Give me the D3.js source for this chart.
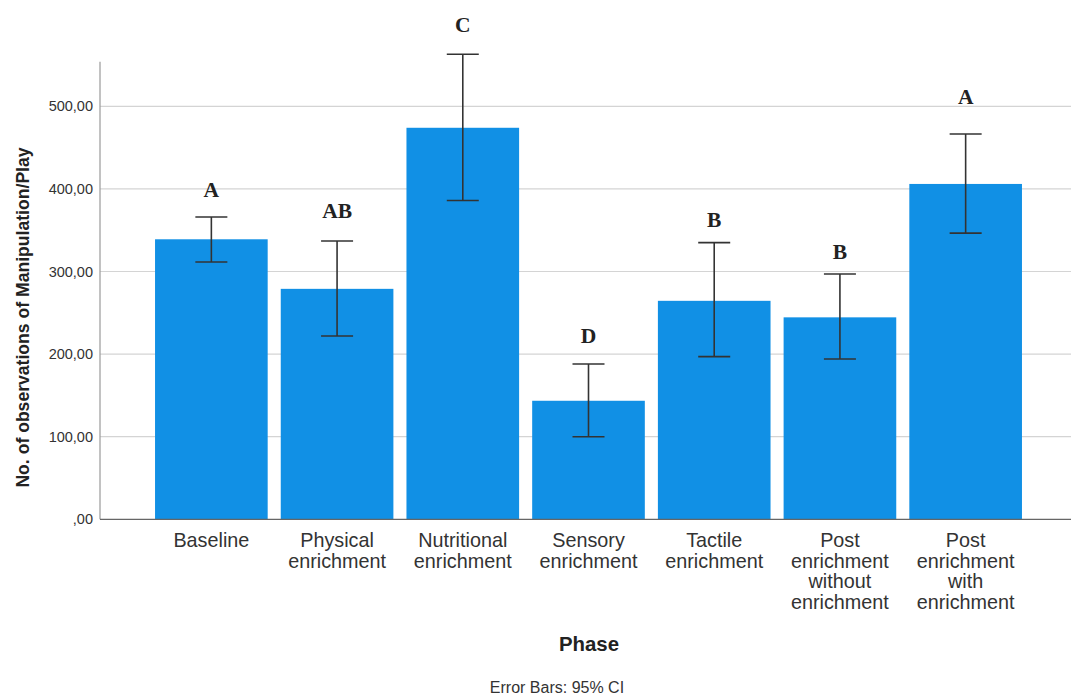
<!DOCTYPE html>
<html>
<head>
<meta charset="utf-8">
<script src="https://cdn.jsdelivr.net/npm/d3@7"></script>
<style>
  html, body { margin: 0; padding: 0; background: #fff; }
  svg { display: block; }
</style>
</head>
<body>
<svg id="chart" width="1071" height="696"></svg>
<script>
// Phases (x categories), each label split into display lines
const phases = [
  ["Baseline"],
  ["Physical", "enrichment"],
  ["Nutritional", "enrichment"],
  ["Sensory", "enrichment"],
  ["Tactile", "enrichment"],
  ["Post", "enrichment", "without", "enrichment"],
  ["Post", "enrichment", "with", "enrichment"]
];
// Mean number of observations per phase
const means = [339, 279, 474, 143.5, 264.5, 244.5, 406];
// 95% confidence interval bounds
const ciLow = [311.5, 222, 386, 100, 197, 194, 346.5];
const ciHigh = [366, 337, 563, 188, 335, 297, 466.5];
// Significance group letters and the value at which each is set
const groups = ["A", "AB", "C", "D", "B", "B", "A"];
const groupAt = [390.5, 365, 590, 213, 354, 315, 503];
// Y axis ticks
const yTicks = [0, 100, 200, 300, 400, 500];

const svg = d3.select("#chart");
const left = 100, right = 1071, bottom = 519.3;

const y = d3.scaleLinear().domain([0, 500]).range([bottom, 106.3]);
const yMax = 554;

const x = d3.scaleBand()
  .domain(d3.range(phases.length))
  .range([148.5, 1028.5])
  .paddingInner(0.104)
  .paddingOuter(0.052);

const fmt = v => v === 0 ? ",00" : d3.format("d")(v) + ",00";
const sans = "Liberation Sans, Arial, sans-serif";

// Gridlines
svg.append("g")
  .selectAll("line")
  .data(yTicks.filter(t => t > 0))
  .join("line")
  .attr("x1", left).attr("x2", right)
  .attr("y1", d => y(d)).attr("y2", d => y(d))
  .attr("stroke", "#d4d4d4").attr("stroke-width", 1.2);

// Y axis
const yAxis = d3.axisLeft(y).tickValues(yTicks).tickFormat(fmt).tickSize(0).tickPadding(7);
const gy = svg.append("g").attr("transform", `translate(${left},0)`).call(yAxis);
gy.select(".domain").remove();
gy.selectAll("text")
  .attr("font-family", sans)
  .attr("font-size", 14.5).attr("fill", "#333");
svg.append("line")
  .attr("x1", left).attr("x2", left)
  .attr("y1", y(yMax)).attr("y2", bottom)
  .attr("stroke", "#999").attr("stroke-width", 1.2);

// Bars
svg.append("g")
  .selectAll("rect")
  .data(means)
  .join("rect")
  .attr("x", (d, i) => x(i))
  .attr("width", x.bandwidth())
  .attr("y", d => y(d))
  .attr("height", d => bottom - y(d))
  .attr("fill", "#1190e5");

// X axis baseline
svg.append("line")
  .attr("x1", left).attr("x2", right)
  .attr("y1", bottom).attr("y2", bottom)
  .attr("stroke", "#666").attr("stroke-width", 1.2);

// Error bars
const eb = svg.append("g").attr("stroke", "#333").attr("stroke-width", 1.6);
const cap = 16;
means.forEach((m, i) => {
  const cx = x(i) + x.bandwidth() / 2;
  eb.append("line").attr("x1", cx).attr("x2", cx)
    .attr("y1", y(ciHigh[i])).attr("y2", y(ciLow[i]));
  eb.append("line").attr("x1", cx - cap).attr("x2", cx + cap)
    .attr("y1", y(ciHigh[i])).attr("y2", y(ciHigh[i]));
  eb.append("line").attr("x1", cx - cap).attr("x2", cx + cap)
    .attr("y1", y(ciLow[i])).attr("y2", y(ciLow[i]));
});

// Group letters
svg.append("g")
  .selectAll("text")
  .data(groups)
  .join("text")
  .attr("x", (d, i) => x(i) + x.bandwidth() / 2)
  .attr("y", (d, i) => y(groupAt[i]))
  .attr("text-anchor", "middle")
  .attr("font-family", "Liberation Serif, Times New Roman, serif")
  .attr("font-weight", "bold")
  .attr("font-size", 21.5)
  .attr("fill", "#222")
  .text(d => d);

// X category labels
const xl = svg.append("g")
  .attr("font-family", sans)
  .attr("font-size", 19.8).attr("fill", "#333").attr("text-anchor", "middle");
phases.forEach((lines, i) => {
  const t = xl.append("text")
    .attr("x", x(i) + x.bandwidth() / 2)
    .attr("y", 547);
  lines.forEach((ln, k) => {
    t.append("tspan")
      .attr("x", x(i) + x.bandwidth() / 2)
      .attr("dy", k === 0 ? 0 : 20.6)
      .text(ln);
  });
});

// Axis titles
svg.append("text")
  .attr("x", 589).attr("y", 651)
  .attr("text-anchor", "middle")
  .attr("font-family", sans)
  .attr("font-size", 20.4).attr("font-weight", "bold").attr("fill", "#222")
  .text("Phase");

svg.append("text")
  .attr("transform", "translate(28.5,317.5) rotate(-90)")
  .attr("text-anchor", "middle")
  .attr("font-family", sans)
  .attr("font-size", 17.6).attr("font-weight", "bold").attr("fill", "#222")
  .text("No. of observations of Manipulation/Play");

// Footnote
svg.append("text")
  .attr("x", 557).attr("y", 693)
  .attr("text-anchor", "middle")
  .attr("font-family", sans)
  .attr("font-size", 16).attr("fill", "#333")
  .text("Error Bars: 95% CI");
</script>
</body>
</html>
